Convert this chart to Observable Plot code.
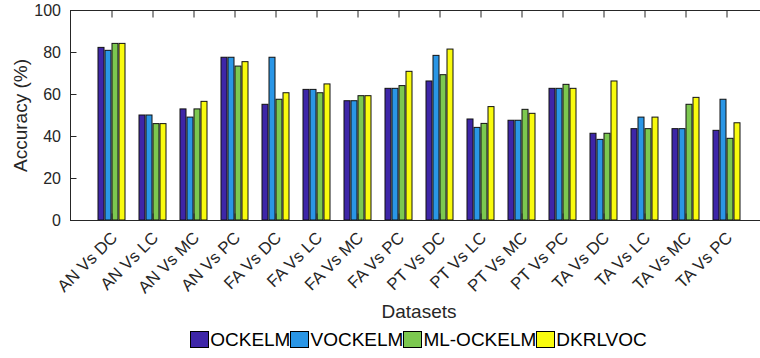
<!DOCTYPE html>
<html><head><meta charset="utf-8">
<script src="https://cdn.jsdelivr.net/npm/d3@7"></script>
<script src="https://cdn.jsdelivr.net/npm/@observablehq/plot@0.6"></script>
<style>
html,body{margin:0;padding:0;background:#fff;overflow:hidden;}
body{font-family:"Liberation Sans",Arial,Helvetica,sans-serif;color:#262626;width:760px;height:358px;}
#legend{display:flex;justify-content:center;padding-left:77px;margin-top:2px;height:17px;}
.item{display:flex;align-items:center;font-size:19px;line-height:17px;color:#000;}
.sw{width:19px;height:17px;box-sizing:border-box;border:1px solid #000;margin-right:1px;}
</style></head><body><div id="chart"></div><div id="legend"></div>
<script>
const datasets = ["AN Vs DC","AN Vs LC","AN Vs MC","AN Vs PC","FA Vs DC","FA Vs LC","FA Vs MC","FA Vs PC",
                  "PT Vs DC","PT Vs LC","PT Vs MC","PT Vs PC","TA Vs DC","TA Vs LC","TA Vs MC","TA Vs PC"];
const methods = ["OCKELM","VOCKELM","ML-OCKELM","DKRLVOC"];
const ockelm   = [82.2, 50.0, 52.9, 77.5, 55.1, 62.2, 56.8, 62.7, 66.2, 48.1, 47.5, 62.7, 41.3, 43.5, 43.5, 42.7];
const vockelm  = [80.8, 50.0, 49.0, 77.5, 77.5, 62.2, 56.8, 62.7, 78.4, 44.1, 47.5, 62.7, 38.4, 49.0, 43.5, 57.5];
const mlockelm = [84.1, 45.9, 52.9, 73.3, 57.5, 60.6, 59.2, 64.0, 69.2, 46.0, 52.7, 64.6, 41.3, 43.5, 55.1, 38.9];
const dkrlvoc  = [84.1, 45.9, 56.5, 75.4, 60.6, 64.8, 59.2, 70.8, 81.4, 54.0, 50.8, 62.7, 66.2, 49.0, 58.4, 46.3];
const yTicks = [0, 20, 40, 60, 80, 100];
const colors = ["#3e26a8", "#2a96e6", "#7cc850", "#f9fb0e"];

const series = [ockelm, vockelm, mlockelm, dkrlvoc];
const font = '"Liberation Sans", Arial, Helvetica, sans-serif';

const barMarks = series.map((vals, k) =>
  Plot.barY(datasets.map((d, i) => ({dataset: d, method: methods[k], value: vals[i]})), {
    x: "dataset", y: "value", fill: colors[k], stroke: "#111", strokeWidth: 1,
    insetLeft: 7 + 7 * k, insetRight: 28 - 7 * k
  })
);

const chart = Plot.plot({
  width: 760, height: 329,
  marginTop: 10, marginBottom: 109, marginLeft: 70, marginRight: -7,
  style: {fontFamily: font, fontSize: "16px", color: "#262626", background: "white"},
  x: {type: "band", domain: datasets, paddingInner: 0, paddingOuter: 0.5},
  y: {domain: [0, 100]},
  marks: [
    ...barMarks,
    Plot.frame({stroke: "#262626"}),
    Plot.axisY({ticks: yTicks, tickSize: -6.5, tickPadding: 16, label: null, fontSize: 16}),
    Plot.axisY({ticks: [], label: "Accuracy (%)", labelAnchor: "center", labelOffset: 57, labelArrow: "none", fontSize: 19}),
    Plot.axisY({anchor: "right", ticks: yTicks, tickSize: -6.5, tickFormat: () => "", label: null}),
    Plot.axisX({anchor: "top", tickSize: -6.5, tickFormat: () => "", label: null}),
    Plot.axisX({anchor: "bottom", tickSize: -6.5, tickFormat: () => "", label: null}),
    Plot.axisX({anchor: "bottom", tickSize: 0, tickPadding: 14.5, dx: 2.5, tickRotate: -45, label: null, fontSize: 16.8}),
    Plot.axisX({anchor: "bottom", ticks: [], label: "Datasets", labelAnchor: "center", labelOffset: 97, labelArrow: "none", fontSize: 19})
  ]
});
document.getElementById("chart").appendChild(chart);

const legend = document.getElementById("legend");
methods.forEach((m, k) => {
  const it = document.createElement("div");
  it.className = "item";
  const sw = document.createElement("span");
  sw.className = "sw";
  sw.style.background = colors[k];
  const tx = document.createElement("span");
  tx.textContent = m;
  it.appendChild(sw); it.appendChild(tx);
  legend.appendChild(it);
});
</script></body></html>
